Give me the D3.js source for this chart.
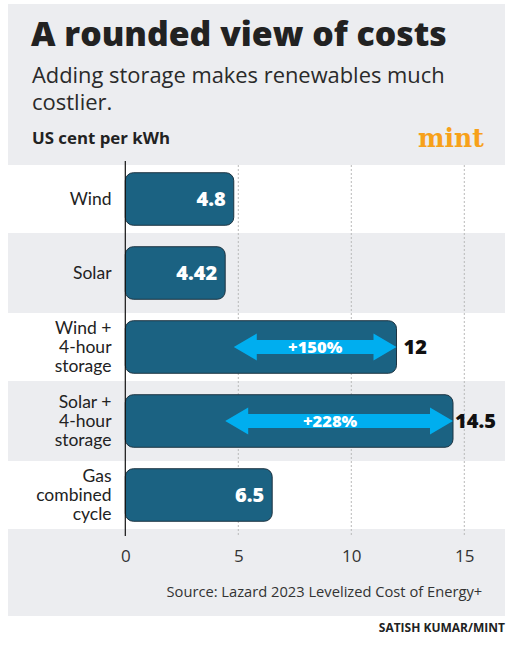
<!DOCTYPE html>
<html><head><meta charset="utf-8">
<script src="https://cdn.jsdelivr.net/npm/d3@7"></script>
<style>
html,body{margin:0;padding:0;background:#fff;}
svg{display:block;font-family:"Open Sans",sans-serif;}
</style></head>
<body><svg id="c" width="508" height="648"></svg>
<script>
const categories = ["Wind", "Solar", "Wind +\n4-hour\nstorage", "Solar +\n4-hour\nstorage", "Gas\ncombined\ncycle"];
const values = [4.8, 4.42, 12, 14.5, 6.5];
const labelInside = [true, true, false, false, true];
const arrowRows = [2, 3];
const arrowFrom = [4.8, 4.42];
const arrowLabels = ["+150%", "+228%"];
const tickValues = [0, 5, 10, 15];

const svg = d3.select("#c");
const grayC = "#ecedf0";
const barC = "#1b6282";
const cyan = "#00aeef";

svg.append("rect").attr("x", 8).attr("y", 4).attr("width", 497).attr("height", 612).attr("fill", grayC);

const x = d3.scaleLinear().domain([0, 15]).range([125.3, 464.3]);
const y = d3.scaleBand().domain(d3.range(categories.length)).range([162, 532]).paddingInner(0.29).paddingOuter(0.145);
const bw = y.bandwidth();

// white rows
svg.selectAll("rect.row").data(d3.range(categories.length).filter(i => i % 2 === 0)).join("rect")
  .attr("x", 8).attr("width", 497)
  .attr("y", i => y(i) + bw / 2 - 34).attr("height", 68).attr("fill", "#fff");

function fitText(sel, w) {
  const n = sel.node(); const l = n.getComputedTextLength();
  const fs = parseFloat(sel.attr("font-size"));
  sel.attr("font-size", fs * w / l);
}

// header
fitText(svg.append("text").attr("x", 31).attr("y", 46).attr("font-size", 34).attr("font-weight", 800).attr("fill", "#222").text("A rounded view of costs"), 416);
fitText(svg.append("text").attr("x", 32).attr("y", 83).attr("font-size", 22).attr("fill", "#2a2a2a").text("Adding storage makes renewables much"), 413);
svg.append("text").attr("x", 32).attr("y", 110).attr("font-size", 22).attr("fill", "#2a2a2a").text("costlier.");
fitText(svg.append("text").attr("x", 32).attr("y", 144).attr("font-size", 16).attr("font-weight", 700).attr("fill", "#222").text("US cent per kWh"), 138);
fitText(svg.append("text").attr("x", 418).attr("y", 147).attr("font-size", 26).attr("font-weight", 700).attr("font-family", "'DejaVu Serif',serif").attr("fill", "#f7a11a").text("mint"), 66);

// grid
const gridG = svg.append("g");
gridG.selectAll("line").data(tickValues.filter(d => d > 0)).join("line")
  .attr("x1", d => x(d)).attr("x2", d => x(d)).attr("y1", 165).attr("y2", 536)
  .attr("stroke", "#b9b9b9").attr("stroke-width", 1).attr("stroke-dasharray", "2,2");

// axis ticks via d3 axis
const ax = svg.append("g").attr("transform", "translate(0,546)")
  .call(d3.axisBottom(x).tickValues(tickValues).tickSize(0).tickPadding(0));
ax.select(".domain").remove();
ax.selectAll("text").attr("font-size", 17).attr("font-family", "'Open Sans',sans-serif").attr("fill", "#333").attr("dy", "0.95em");

// bars
svg.selectAll("rect.bar").data(values).join("rect").attr("class", "bar")
  .attr("x", x(0)).attr("y", (d, i) => y(i)).attr("width", d => x(d) - x(0)).attr("height", bw)
  .attr("rx", 8).attr("fill", barC).attr("stroke", "#1d3442").attr("stroke-width", 1);

// axis line
svg.append("line").attr("x1", x(0)).attr("x2", x(0)).attr("y1", 161).attr("y2", 536).attr("stroke", "#111").attr("stroke-width", 1.2);

// category labels (one text per line)
categories.forEach((c, i) => {
  const lines = c.split("\n");
  const cy = y(i) + bw / 2;
  lines.forEach((l, j) => {
    svg.append("text").attr("text-anchor", "end").attr("font-size", 17.5).attr("font-family", "Lato,sans-serif").attr("fill", "#222")
      .attr("x", 111.5).attr("y", cy + (j - (lines.length - 1) / 2) * 19 + 6).text(l);
  });
});

// arrows
const hh = 13.5, sh = 7, hl = 23;
arrowRows.forEach((r, k) => {
  const x0 = x(arrowFrom[k]), x1 = x(values[r]), cy = y(r) + bw / 2;
  const p = d3.path();
  p.moveTo(x0, cy); p.lineTo(x0 + hl, cy - hh); p.lineTo(x0 + hl, cy - sh); p.lineTo(x1 - hl, cy - sh);
  p.lineTo(x1 - hl, cy - hh); p.lineTo(x1, cy); p.lineTo(x1 - hl, cy + hh); p.lineTo(x1 - hl, cy + sh);
  p.lineTo(x0 + hl, cy + sh); p.lineTo(x0 + hl, cy + hh); p.closePath();
  svg.append("path").attr("d", p.toString()).attr("fill", cyan);
  svg.append("text").attr("x", (x0 + x1) / 2 - (k === 1 ? 9 : 0)).attr("y", cy + 6).attr("text-anchor", "middle")
    .attr("font-size", 16.5).attr("font-weight", 800).attr("fill", "#fff").text(arrowLabels[k]);
});

// value labels
values.forEach((v, i) => {
  const cy = y(i) + bw / 2;
  svg.append("text").attr("x", labelInside[i] ? x(v) - 8 : x(v) + (i === 3 ? 2 : 7))
    .attr("y", cy + 7).attr("text-anchor", labelInside[i] ? "end" : "start")
    .attr("font-size", 20).attr("font-weight", 800).attr("fill", labelInside[i] ? "#fff" : "#111")
    .text(String(v));
});

// source / credit
fitText(svg.append("text").attr("x", 166.5).attr("y", 597).attr("font-size", 14.5).attr("fill", "#333").text("Source: Lazard 2023 Levelized Cost of Energy+"), 316);
svg.append("text").attr("x", 505).attr("y", 632).attr("text-anchor", "end").attr("font-size", 12).attr("font-weight", 700).attr("fill", "#222").text("SATISH KUMAR/MINT");
</script></body></html>
